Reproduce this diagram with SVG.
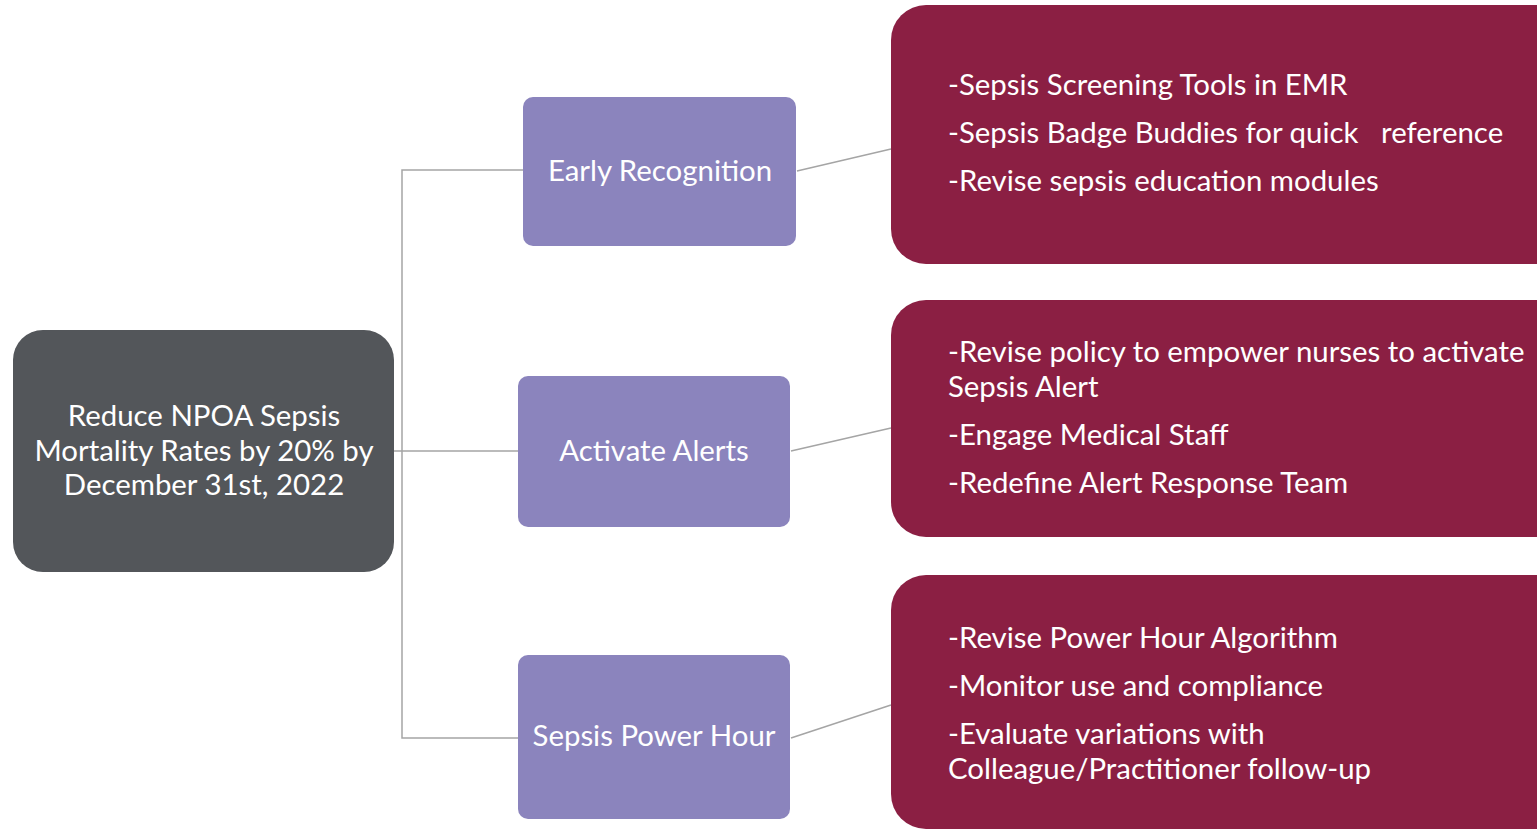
<svg xmlns="http://www.w3.org/2000/svg" width="1537" height="829" viewBox="0 0 1537 829">
<style>
.t{font-family:Lato,"Open Sans","Liberation Sans",sans-serif;font-size:29.4px;fill:#ffffff}
.c{text-anchor:middle}
.con{stroke:#a5a5a5;stroke-width:1.5;fill:none}
.goal{fill:#53565a}
.mid{fill:#8b84bd}
.det{fill:#8b1f43}
</style>
<rect width="1537" height="829" fill="#ffffff"/>
<g id="connectors">
<polyline class="con" points="523,170 402,170 402,738 518,738"/>
<line class="con" x1="394" y1="451" x2="518" y2="451"/>
<line class="con" x1="797" y1="171" x2="891" y2="149"/>
<line class="con" x1="791" y1="451" x2="891" y2="428"/>
<line class="con" x1="791" y1="738" x2="891" y2="705"/>
</g>
<g id="goal">
<rect class="goal" x="13" y="330" width="381" height="242" rx="30"/>
<text class="t c" x="204" y="426">Reduce NPOA Sepsis</text>
<text class="t c" x="204" y="461">Mortality Rates by 20% by</text>
<text class="t c" x="204" y="495">December 31st, 2022</text>
</g>
<g id="early-recognition">
<rect class="mid" x="523" y="97" width="273" height="149" rx="10"/>
<text class="t c" x="660" y="181">Early Recognition</text>
</g>
<g id="activate-alerts">
<rect class="mid" x="518" y="376" width="272" height="151" rx="10"/>
<text class="t c" x="654" y="461">Activate Alerts</text>
</g>
<g id="sepsis-power-hour">
<rect class="mid" x="518" y="655" width="272" height="164" rx="10"/>
<text class="t c" x="654" y="746">Sepsis Power Hour</text>
</g>
<g id="details-early">
<rect class="det" x="891" y="5" width="680" height="259" rx="35"/>
<text class="t" x="948" y="95">-Sepsis Screening Tools in EMR</text>
<text class="t" x="948" y="143" xml:space="preserve">-Sepsis Badge Buddies for quick   reference</text>
<text class="t" x="948" y="191">-Revise sepsis education modules</text>
</g>
<g id="details-alerts">
<rect class="det" x="891" y="300" width="680" height="237" rx="35"/>
<text class="t" x="948" y="362">-Revise policy to empower nurses to activate</text>
<text class="t" x="948" y="397">Sepsis Alert</text>
<text class="t" x="948" y="445">-Engage Medical Staff</text>
<text class="t" x="948" y="493">-Redefine Alert Response Team</text>
</g>
<g id="details-power-hour">
<rect class="det" x="891" y="575" width="680" height="254" rx="35"/>
<text class="t" x="948" y="648">-Revise Power Hour Algorithm</text>
<text class="t" x="948" y="696">-Monitor use and compliance</text>
<text class="t" x="948" y="744">-Evaluate variations with</text>
<text class="t" x="948" y="779">Colleague/Practitioner follow-up</text>
</g>
</svg>
